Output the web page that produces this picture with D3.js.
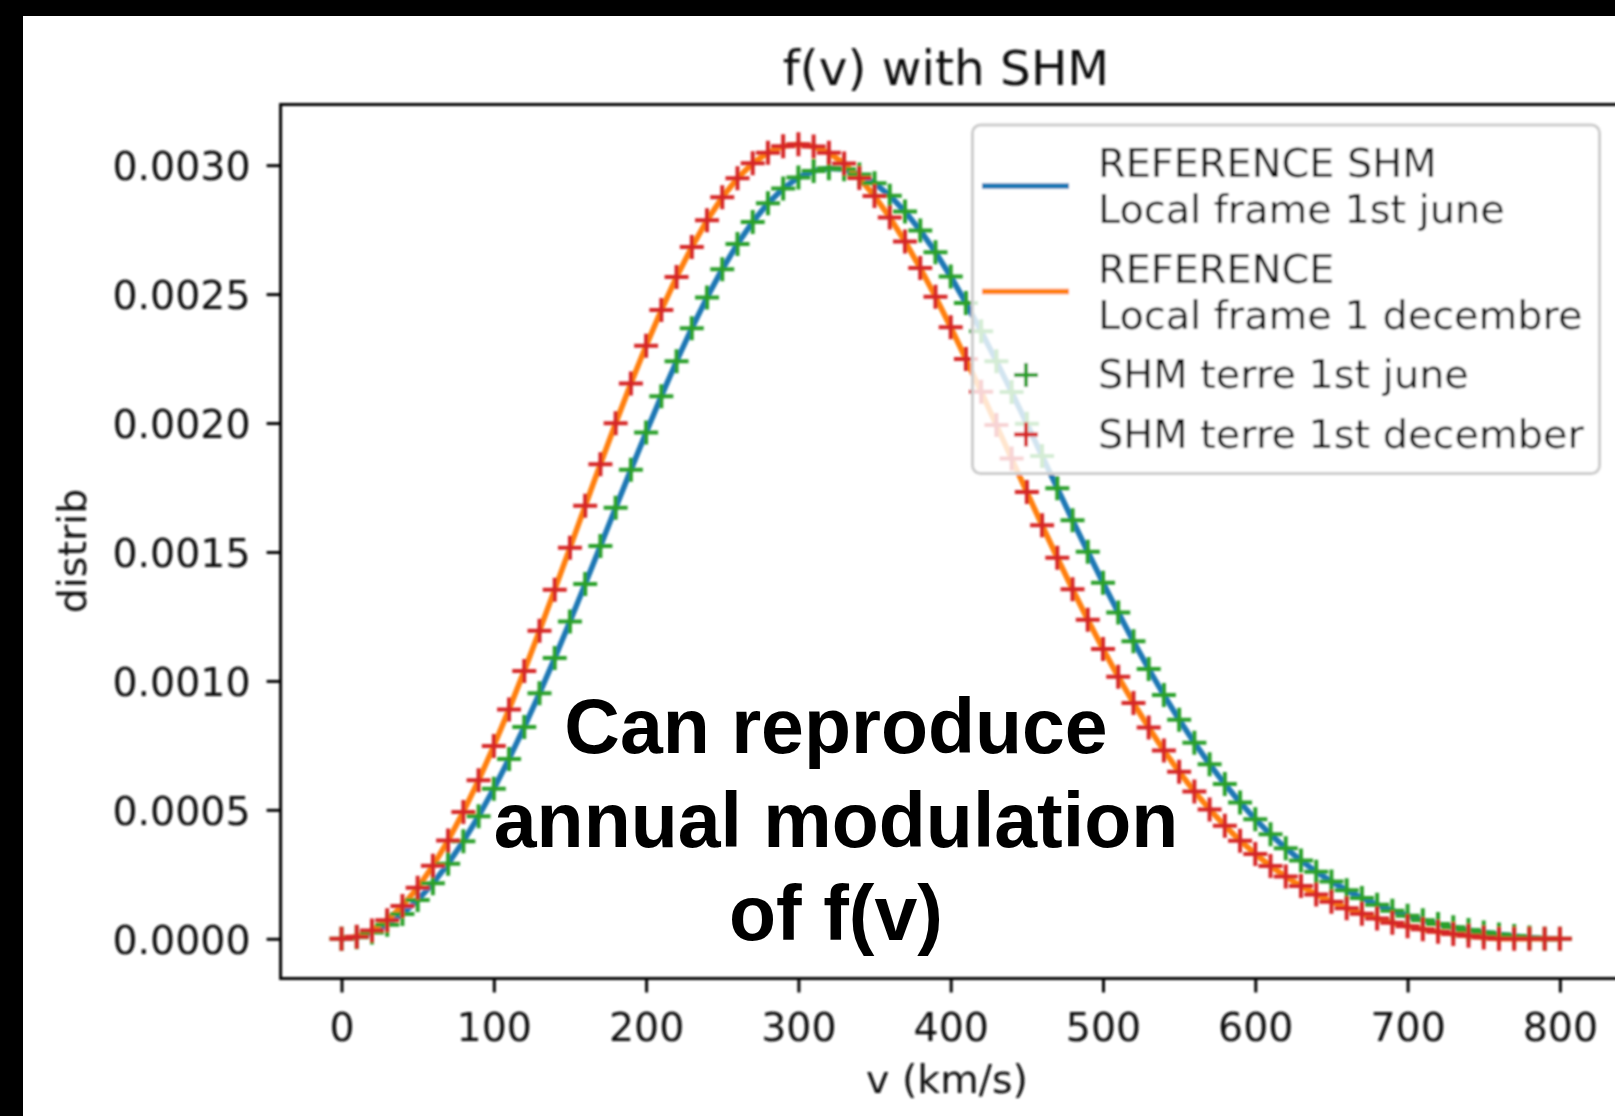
<!DOCTYPE html>
<html>
<head>
<meta charset="utf-8">
<script src="https://cdn.jsdelivr.net/npm/d3@7"></script>
<style>
  html, body { margin: 0; padding: 0; background: #fff; }
  svg { display: block; }
</style>
</head>
<body>
<svg id="chart" width="1615" height="1116"></svg>
<script>
// Speed grid (km/s)
const velocity = [
  0, 10, 20, 30, 40, 50, 60, 70, 80, 90,
  100, 110, 120, 130, 140, 150, 160, 170, 180, 190,
  200, 210, 220, 230, 240, 250, 260, 270, 280, 290,
  300, 310, 320, 330, 340, 350, 360, 370, 380, 390,
  400, 410, 420, 430, 440, 450, 460, 470, 480, 490,
  500, 510, 520, 530, 540, 550, 560, 570, 580, 590,
  600, 610, 620, 630, 640, 650, 660, 670, 680, 690,
  700, 710, 720, 730, 740, 750, 760, 770, 780, 790,
  800
];

// f(v) in the Earth frame, 1st June
const shmJune = [
  0, 0.0000060, 0.0000242, 0.0000543, 0.0000963, 0.0001499, 0.0002150, 0.0002912, 0.0003781, 0.0004752,
  0.0005820, 0.0006976, 0.0008212, 0.0009519, 0.0010887, 0.0012304, 0.0013757, 0.0015231, 0.0016712, 0.0018185,
  0.0019634, 0.0021043, 0.0022396, 0.0023678, 0.0024872, 0.0025966, 0.0026946, 0.0027800, 0.0028520, 0.0029096,
  0.0029518, 0.0029778, 0.0029885, 0.0029839, 0.0029642, 0.0029300, 0.0028818, 0.0028205, 0.0027471, 0.0026626,
  0.0025682, 0.0024655, 0.0023556, 0.0022399, 0.0021200, 0.0019969, 0.0018724, 0.0017474, 0.0016232, 0.0015006,
  0.0013810, 0.0012650, 0.0011534, 0.0010466, 0.0009452, 0.0008497, 0.0007603, 0.0006770, 0.0005998, 0.0005288,
  0.0004639, 0.0004049, 0.0003514, 0.0003034, 0.0002603, 0.0002220, 0.0001881, 0.0001582, 0.0001320, 0.0001091,
  0.0000893, 0.0000721, 0.0000573, 0.0000447, 0.0000339, 0.0000248, 0.0000170, 0.0000105, 0.0000050, 0.0000004,
  0
];

// f(v) in the Earth frame, 1st December
const shmDecember = [
  0, 0.0000081, 0.0000322, 0.0000721, 0.0001275, 0.0001979, 0.0002827, 0.0003810, 0.0004920, 0.0006145,
  0.0007474, 0.0008893, 0.0010388, 0.0011942, 0.0013539, 0.0015160, 0.0016789, 0.0018406, 0.0019992, 0.0021529,
  0.0022997, 0.0024380, 0.0025662, 0.0026826, 0.0027860, 0.0028752, 0.0029491, 0.0030071, 0.0030486, 0.0030733,
  0.0030812, 0.0030726, 0.0030478, 0.0030068, 0.0029501, 0.0028800, 0.0027975, 0.0027040, 0.0026010, 0.0024897,
  0.0023717, 0.0022486, 0.0021215, 0.0019922, 0.0018620, 0.0017321, 0.0016035, 0.0014776, 0.0013551, 0.0012371,
  0.0011238, 0.0010161, 0.0009145, 0.0008190, 0.0007300, 0.0006474, 0.0005713, 0.0005016, 0.0004382, 0.0003806,
  0.0003289, 0.0002824, 0.0002411, 0.0002044, 0.0001720, 0.0001436, 0.0001188, 0.0000972, 0.0000786, 0.0000625,
  0.0000488, 0.0000370, 0.0000271, 0.0000186, 0.0000114, 0.0000054, 0.0000004, 0, 0, 0,
  0
];

// Reference curves (local frame) coincide with the Earth-frame results
const referenceJune = shmJune;
const referenceDecember = shmDecember;

const xTickValues = [0, 100, 200, 300, 400, 500, 600, 700, 800];
const yTickValues = [0, 0.0005, 0.0010, 0.0015, 0.0020, 0.0025, 0.0030];

const legendLabels = [
  ["REFERENCE SHM", "Local frame 1st june"],
  ["REFERENCE", "Local frame 1 decembre"],
  ["SHM terre 1st june"],
  ["SHM terre 1st december"]
];
const seriesColors = ["#1f77b4", "#ff7f0e", "#2ca02c", "#d62728"];
const seriesKinds = ["line", "line", "plus", "plus"];

const titleText = "f(v) with SHM";
const xLabelText = "v (km/s)";
const yLabelText = "distrib";
const noteLines = ["Can reproduce", "annual modulation", "of f(v)"];

// ---------------------------------------------------------------
const W = 1615, H = 1116;
const FONT = "'DejaVu Sans', sans-serif";
const FS_TICK = 39.5;
const FS_LEG = 39.8;

const svg = d3.select("#chart");
svg.append("rect").attr("width", W).attr("height", H).attr("fill", "#fff");

const defs = svg.append("defs");
defs.append("filter").attr("id", "soft")
  .attr("x", "-5%").attr("y", "-5%").attr("width", "110%").attr("height", "110%")
  .append("feGaussianBlur").attr("stdDeviation", 0.8);

const chart = svg.append("g").attr("filter", "url(#soft)");

const plot = { left: 280.6, right: 1620.8, top: 104.5, bottom: 978.5 };

const xMin = d3.min(velocity), xMax = d3.max(velocity);
const xPad = (xMax - xMin) * 0.05;
const x = d3.scaleLinear().domain([xMin - xPad, xMax + xPad]).range([plot.left, plot.right]);

const allY = shmJune.concat(shmDecember);
const yMin = d3.min(allY), yMax = d3.max(allY);
const yPad = (yMax - yMin) * 0.05;
const y = d3.scaleLinear().domain([yMin - yPad, yMax + yPad]).range([plot.bottom, plot.top]);

// curves
const lineGen = d3.line().x((d, i) => x(velocity[i])).y(d => y(d));
const curveSeries = [referenceJune, referenceDecember];
curveSeries.forEach((s, k) => {
  chart.append("path")
    .datum(s)
    .attr("d", lineGen)
    .attr("fill", "none")
    .attr("stroke", seriesColors[k])
    .attr("stroke-width", 5.6)
    .attr("stroke-linejoin", "round");
});

// plus markers
const plusPath = "M-12,0H12M0,-12V12";
const markerSeries = [shmJune, shmDecember];
markerSeries.forEach((s, k) => {
  chart.append("g").selectAll("path")
    .data(s)
    .join("path")
    .attr("transform", (d, i) => `translate(${x(velocity[i])},${y(d)})`)
    .attr("d", plusPath)
    .attr("fill", "none")
    .attr("stroke", seriesColors[k + 2])
    .attr("stroke-width", 4);
});

// axes
const gx = chart.append("g")
  .attr("transform", `translate(0,${plot.bottom})`)
  .call(d3.axisBottom(x).tickValues(xTickValues).tickSize(14).tickSizeOuter(0).tickFormat(d3.format("d")));
gx.select(".domain").remove();
gx.selectAll(".tick line").attr("stroke", "#000").attr("stroke-width", 3);
gx.selectAll(".tick text")
  .attr("y", 62.5).attr("dy", null)
  .attr("fill", "#111")
  .style("font-family", FONT).style("font-size", FS_TICK + "px");

const gy = chart.append("g")
  .attr("transform", `translate(${plot.left},0)`)
  .call(d3.axisLeft(y).tickValues(yTickValues).tickSize(14).tickSizeOuter(0).tickFormat(d3.format(".4f")));
gy.select(".domain").remove();
gy.selectAll(".tick line").attr("stroke", "#000").attr("stroke-width", 3);
gy.selectAll(".tick text")
  .attr("x", -30).attr("dy", "0.36em")
  .attr("fill", "#111")
  .style("font-family", FONT).style("font-size", FS_TICK + "px");

// spines
chart.append("rect")
  .attr("x", plot.left).attr("y", plot.top)
  .attr("width", plot.right - plot.left).attr("height", plot.bottom - plot.top)
  .attr("fill", "none").attr("stroke", "#000").attr("stroke-width", 3);

// title and axis labels
chart.append("text")
  .attr("x", 946).attr("y", 84.5)
  .attr("text-anchor", "middle")
  .attr("fill", "#111")
  .style("font-family", FONT).style("font-size", "48.5px")
  .text(titleText);

chart.append("text")
  .attr("x", 947).attr("y", 1093)
  .attr("text-anchor", "middle")
  .attr("fill", "#111")
  .style("font-family", FONT).style("font-size", FS_TICK + "px")
  .text(xLabelText);

chart.append("text")
  .attr("transform", "translate(86,551) rotate(-90)")
  .attr("text-anchor", "middle")
  .attr("fill", "#111")
  .style("font-family", FONT).style("font-size", FS_TICK + "px")
  .text(yLabelText);

// legend
const leg = chart.append("g");
leg.append("rect")
  .attr("x", 972.5).attr("y", 125).attr("width", 627).attr("height", 348.5)
  .attr("rx", 8).attr("ry", 8)
  .attr("fill", "#fff").attr("fill-opacity", 0.8)
  .attr("stroke", "#cccccc").attr("stroke-width", 3);

const lineH = 46, rowGap = 13.5;
let cursor = 140;
legendLabels.forEach((lines, k) => {
  const rowH = lines.length * lineH;
  const cy = cursor + rowH / 2;
  if (seriesKinds[k] === "line") {
    leg.append("line")
      .attr("x1", 982).attr("x2", 1069).attr("y1", cy).attr("y2", cy)
      .attr("stroke", seriesColors[k]).attr("stroke-width", 5.6);
  } else {
    leg.append("path")
      .attr("transform", `translate(1026,${cy + 1})`)
      .attr("d", plusPath)
      .attr("fill", "none")
      .attr("stroke", seriesColors[k]).attr("stroke-width", 4);
  }
  lines.forEach((t, j) => {
    leg.append("text")
      .attr("x", 1098)
      .attr("y", cursor + lineH * j + lineH / 2 + 14)
      .attr("fill", "#111")
      .style("font-family", FONT).style("font-size", FS_LEG + "px")
      .text(t);
  });
  cursor += rowH + rowGap;
});

// dark frame bands at the top and left edge
svg.append("rect").attr("x", 0).attr("y", 0).attr("width", W).attr("height", 16).attr("fill", "#000");
svg.append("rect").attr("x", 0).attr("y", 0).attr("width", 23).attr("height", H).attr("fill", "#000");

// annotation
const note = svg.append("g");
const noteBaselines = [753, 847, 940];
noteLines.forEach((t, i) => {
  note.append("text")
    .attr("x", 836).attr("y", noteBaselines[i])
    .attr("text-anchor", "middle")
    .attr("fill", "#000")
    .style("font-family", "'Liberation Sans', Arial, sans-serif")
    .style("font-weight", "bold")
    .style("font-size", "77px")
    .text(t);
});
</script>
</body>
</html>
